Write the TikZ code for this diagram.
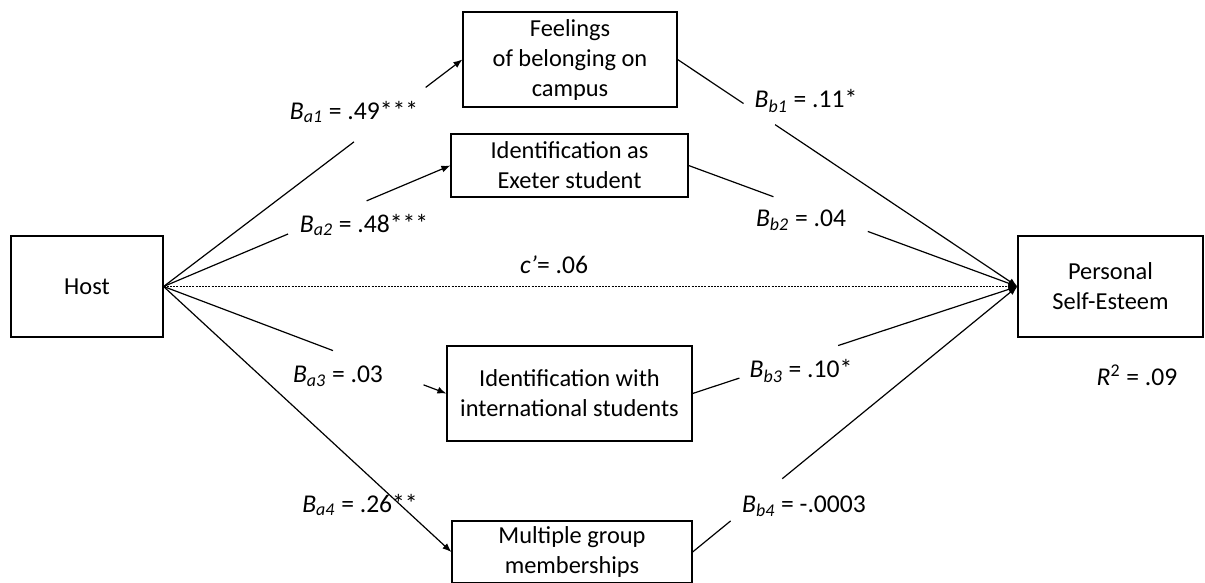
\documentclass[tikz,border=0pt]{standalone}
\usepackage{fontspec}
\setmainfont{Carlito}
\usetikzlibrary{calc,arrows.meta}

\begin{document}
\begin{tikzpicture}[x=0.5pt, y=-0.5pt,
    box/.style={draw, line width=0.6pt, align=center, inner sep=0pt, font=\fontsize{12.2}{15}\selectfont},
    coef/.style={inner sep=0pt, font=\fontsize{12.8}{15}\selectfont},
    link/.style={line width=0.6pt},
    tip/.style={line width=0.6pt, -{Latex[length=4.5pt, width=3.5pt]}}]
    \useasboundingbox (0, 0) rectangle (1205, 583);

    % boxes
    \node[box, minimum width=76pt, minimum height=50.5pt] (host) at (87, 286.5) {Host};
    \node[box, minimum width=92.5pt, minimum height=50.5pt] (pse) at (1110.5, 286.5) {Personal\\Self-Esteem};
    \node[box, minimum width=107pt, minimum height=47.5pt] (feel) at (570, 59.5) {Feelings\\of belonging on\\campus};
    \node[box, minimum width=118.5pt, minimum height=31.5pt] (exe) at (569.5, 165.5) {Identification as\\Exeter student};
    \node[box, minimum width=122.5pt, minimum height=47.5pt] (intl) at (569.5, 393.5) {Identification with\\international students};
    \node[box, minimum width=120pt, minimum height=31pt] (multi) at (572, 552) {Multiple group\\memberships};

    % a paths
    \draw[link] (host.east) -- ($(host.east)!0.637!(feel.west)$);
    \draw[tip] ($(host.east)!0.877!(feel.west)$) -- (feel.west);
    \draw[link] (host.east) -- ($(host.east)!0.434!(exe.west)$);
    \draw[tip] ($(host.east)!0.708!(exe.west)$) -- (exe.west);
    \draw[link] (host.east) -- ($(host.east)!0.599!(intl.west)$);
    \draw[tip] ($(host.east)!0.919!(intl.west)$) -- (intl.west);
    \draw[tip] (host.east) -- (multi.west);

    % b paths
    \draw[link] (feel.east) -- ($(feel.east)!0.194!(pse.west)$);
    \draw[tip] ($(feel.east)!0.287!(pse.west)$) -- (pse.west);
    \draw[link] (exe.east) -- ($(exe.east)!0.258!(pse.west)$);
    \draw[tip] ($(exe.east)!0.545!(pse.west)$) -- (pse.west);
    \draw[link] (intl.east) -- ($(intl.east)!0.144!(pse.west)$);
    \draw[tip] ($(intl.east)!0.448!(pse.west)$) -- (pse.west);
    \draw[link] (multi.east) -- ($(multi.east)!0.117!(pse.west)$);
    \draw[tip] ($(multi.east)!0.276!(pse.west)$) -- (pse.west);

    % direct path
    \draw[tip, line width=0.5pt, dash pattern=on 1pt off 0.6pt] (host.east) -- (pse.west);

    % coefficients
    \node[coef] (la1) at (354, 112) {\textit{B}\textsubscript{\textit{a1}} = .49***};
    \node[coef] (la2) at (364, 225) {\textit{B}\textsubscript{\textit{a2}} = .48***};
    \node[coef] (la3) at (338, 376) {\textit{B}\textsubscript{\textit{a3}} = .03};
    \node[coef] (la4) at (360, 505) {\textit{B}\textsubscript{\textit{a4}} = .26**};
    \node[coef] (lb1) at (806, 101) {\textit{B}\textsubscript{\textit{b1}} = .11*};
    \node[coef] (lb2) at (801, 220) {\textit{B}\textsubscript{\textit{b2}} = .04};
    \node[coef] (lb3) at (801, 371) {\textit{B}\textsubscript{\textit{b3}} = .10*};
    \node[coef] (lb4) at (804, 506) {\textit{B}\textsubscript{\textit{b4}} = -.0003};
    \node[coef] (lc) at (554, 265) {\textit{c’}= .06};
    \node[coef] (rsq) at (1137, 375) {\textit{R}\textsuperscript{2} = .09};
\end{tikzpicture}
\end{document}
